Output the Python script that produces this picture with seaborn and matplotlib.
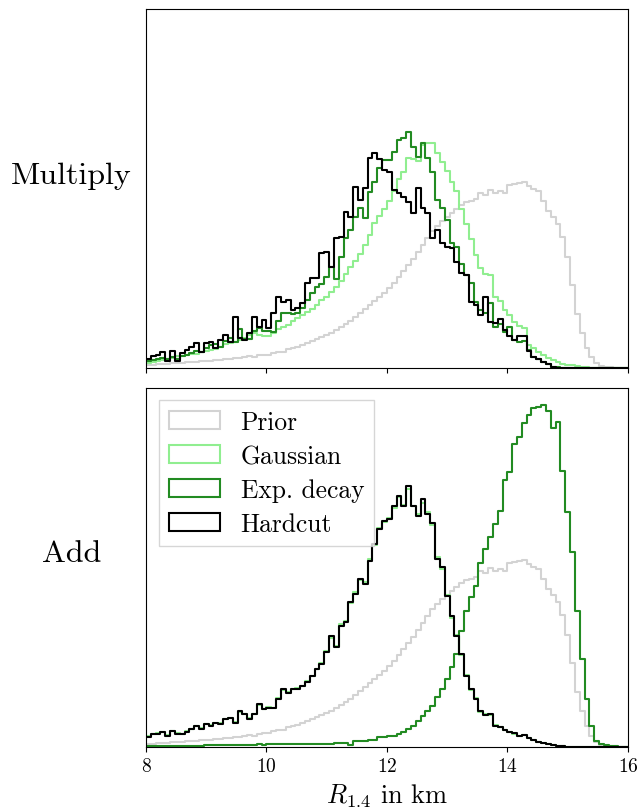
import numpy as np
import pandas as pd
import matplotlib.pyplot as plt
import seaborn as sns
from matplotlib.patches import Patch

# histogram binning (100 bins between 8 and 16 km)
n_bins = 100
bin_range = (8, 16)
edges = np.linspace(bin_range[0], bin_range[1], n_bins + 1)
centers = (edges[:-1] + edges[1:]) / 2

# bin heights (arbitrary density units)
prior = [3, 3, 4, 4, 4, 5, 5, 5, 6, 6,
         6, 7, 7, 7, 8, 8, 9, 9, 10, 10,
         11, 12, 11, 13, 14, 14, 16, 17, 17, 20,
         21, 22, 24, 26, 28, 30, 32, 34, 36, 39,
         42, 45, 48, 52, 56, 60, 64, 68, 72, 76,
         81, 86, 92, 98, 104, 110, 117, 124, 131, 138,
         143, 148, 152, 156, 160, 164, 167, 168, 170, 176,
         174, 179, 176, 178, 176, 184, 185, 186, 187, 183,
         180, 178, 168, 158, 152, 145, 132, 112, 84, 55,
         36, 21, 11, 5, 2, 1, 1, 0.5, 0.3, 0.2]

mult_gaussian = [5, 6, 7, 8, 9, 10, 12, 12, 13, 15,
                 15, 17, 18, 19, 20, 22, 25, 26, 27, 29,
                 31, 34, 36, 34, 33, 33, 36, 40, 42, 44,
                 48, 51, 54, 57, 60, 64, 69, 72, 77, 82,
                 88, 95, 102, 108, 115, 124, 134, 146, 153, 160,
                 168, 178, 190, 197, 211, 210, 208, 224, 226, 226,
                 216, 207, 198, 187, 178, 160, 145, 130, 114, 101,
                 95, 94, 72, 68, 59, 54, 47, 43, 41, 24,
                 21, 17, 14, 10, 8, 6, 4, 3, 3, 2,
                 1, 1, 0.5, 0.5, 0.3, 0.2, 0.1, 0.1, 0, 0]

mult_exp = [7, 8, 9, 10, 9, 11, 9, 12, 14, 16,
            18, 17, 21, 24, 25, 22, 28, 31, 27, 40,
            30, 30, 38, 41, 38, 38, 37, 48, 56, 56,
            55, 56, 61, 69, 76, 82, 85, 92, 102, 90,
            112, 131, 139, 152, 161, 151, 177, 187, 201, 209,
            209, 217, 229, 231, 237, 222, 212, 226, 211, 197,
            169, 161, 149, 126, 122, 105, 94, 86, 67, 59,
            56, 66, 42, 45, 37, 42, 29, 27, 28, 19,
            11, 9, 6, 4, 1.5, 1, 0.5, 0.3, 0.2, 0.1,
            0, 0, 0, 0, 0, 0, 0, 0, 0, 0]

mult_hardcut = [9, 12, 14, 17, 7, 18, 7, 16, 19, 22,
                26, 17, 26, 27, 21, 29, 34, 27, 52, 31,
                29, 36, 52, 42, 49, 41, 56, 72, 67, 69,
                59, 61, 66, 86, 91, 91, 116, 117, 102, 131,
                132, 157, 152, 182, 169, 181, 211, 216, 210, 199,
                197, 179, 176, 172, 167, 156, 181, 161, 156, 131,
                139, 126, 122, 121, 107, 96, 94, 67, 64, 54,
                72, 47, 46, 50, 39, 33, 29, 33, 33, 18,
                11, 9, 6, 4, 1.5, 0.8, 0.5, 0.3, 0.2, 0.1,
                0, 0, 0, 0, 0, 0, 0, 0, 0, 0]

add_gaussian = [11, 13, 14, 15, 12, 16, 14, 13, 16, 18,
                21, 19, 23, 22, 24, 24, 28, 29, 25, 35,
                33, 29, 33, 42, 38, 40, 39, 49, 57, 55,
                58, 59, 61, 66, 71, 78, 84, 96, 109, 101,
                123, 126, 144, 155, 167, 165, 188, 202, 219, 225,
                229, 239, 250, 242, 258, 241, 233, 244, 235, 222,
                190, 178, 152, 129, 112, 92, 72, 57, 49, 35,
                33, 32, 22, 20, 17, 15, 13, 11, 12, 9,
                7, 5, 4, 3, 2, 1.5, 1, 0.5, 0.3, 0.2,
                0.1, 0.1, 0, 0, 0, 0, 0, 0, 0, 0]

add_exp = [1, 1, 1, 1, 1, 1, 1, 1, 1.5, 1.5,
           1.5, 1.5, 2, 2, 2, 2, 2, 2.5, 2, 2.5,
           2.5, 2, 2.5, 3, 2.5, 3, 3, 3, 3, 3.5,
           3, 3, 3.5, 3, 3, 3, 3.5, 3, 3, 4,
           4, 4, 2, 6, 6, 6, 7, 7, 10, 10,
           11, 11, 13, 15, 18, 21, 26, 31, 36, 41,
           50, 58, 68, 80, 93, 116, 136, 150, 161, 184,
           198, 210, 223, 236, 268, 276, 304, 311, 325, 333,
           340, 341, 343, 337, 320, 326, 277, 235, 195, 136,
           88, 48, 21, 6, 3, 2, 1, 1, 0.5, 0.3]

add_hardcut = [10, 13, 13, 15, 11, 16, 13, 13, 15, 18,
               21, 18, 23, 21, 24, 23, 28, 29, 24, 36,
               33, 28, 33, 43, 38, 39, 39, 48, 58, 54,
               58, 58, 61, 65, 71, 78, 83, 95, 111, 100,
               121, 125, 145, 153, 168, 163, 186, 203, 218, 226,
               228, 241, 251, 241, 261, 241, 231, 248, 233, 224,
               188, 180, 151, 131, 111, 93, 71, 58, 48, 36,
               32, 33, 21, 20, 17, 15, 14, 11, 12, 9,
               7, 5, 4, 3, 2, 1.5, 1, 0.5, 0.3, 0.2,
               0.1, 0.1, 0, 0, 0, 0, 0, 0, 0, 0]

labels = ['Prior', 'Gaussian', 'Exp. decay', 'Hardcut']
colors = ['lightgray', 'lightgreen', 'forestgreen', 'black']
rows = {
    'Multiply': [prior, mult_gaussian, mult_exp, mult_hardcut],
    'Add': [prior, add_gaussian, add_exp, add_hardcut],
}

sns.set_style("ticks", {"axes.edgecolor": "black", "xtick.color": "black",
                        "text.color": "black", "axes.labelcolor": "black"})
plt.rcParams['font.family'] = ['cmr10', 'DejaVu Serif']
plt.rcParams['mathtext.fontset'] = 'cm'
plt.rcParams['axes.formatter.use_mathtext'] = True

fig, axes = plt.subplots(2, 1, figsize=(6.42, 8.12), dpi=100, sharex=True, sharey=True)
fig.subplots_adjust(left=0.2274, right=0.978, top=0.9877, bottom=0.0788, hspace=0.053)

for ax, (row_name, series) in zip(axes, rows.items()):
    for vals, c in zip(series, colors):
        df = pd.DataFrame({'R': centers, 'w': vals})
        sns.histplot(data=df, x='R', weights='w', bins=n_bins, binrange=bin_range,
                     element='step', fill=False, color=c, linewidth=1.5, ax=ax)
    ax.set_xlim(8, 16)
    ax.set_yticks([])
    ax.set_ylabel('')
    # row label, written to the left of the panel
    ax.text(-0.1546, 0.5, row_name, transform=ax.transAxes, ha='center', va='bottom',
            fontsize=23, color='black')
    ax.tick_params(axis='x', labelsize=14, labelcolor='black')

axes[1].set_ylim(0, axes[1].get_ylim()[1])
axes[1].set_xticks([8, 10, 12, 14, 16])
axes[1].set_xlabel(r'$R_{1.4}$ in km', fontsize=19, labelpad=5)

handles = [Patch(facecolor='none', edgecolor=c, linewidth=1.5) for c in colors]
axes[1].legend(handles, labels, loc='upper left', fontsize=18.4, fancybox=False,
               edgecolor='0.8', labelspacing=0.4)

plt.savefig('out.png', dpi=100)
